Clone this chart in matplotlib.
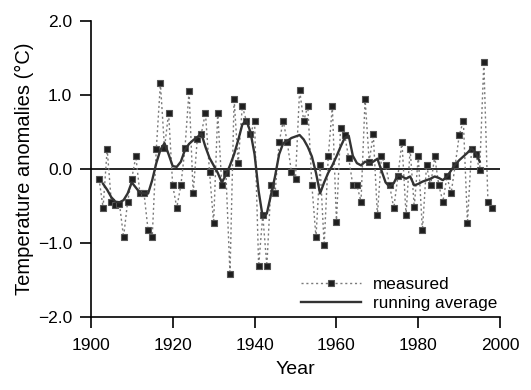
import matplotlib.pyplot as plt

plt.rcParams['font.family'] = ['Liberation Sans', 'DejaVu Sans']

# measured anomalies, 1902-1998
years = list(range(1902, 1999))
measured = [-0.13, -0.52, 0.27, -0.44, -0.49, -0.47, -0.92, -0.44, -0.13, 0.17,
            -0.33, -0.33, -0.83, -0.92, 0.27, 1.16, 0.28, 0.76, -0.22, -0.52,
            -0.22, 0.28, 1.06, -0.33, 0.40, 0.48, 0.76, -0.04, -0.73, 0.76,
            -0.22, -0.05, -1.42, 0.95, 0.08, 0.85, 0.65, 0.47, 0.65, -1.31,
            -0.62, -1.31, -0.22, -0.33, 0.36, 0.65, 0.36, -0.04, -0.13, 1.07,
            0.65, 0.85, -0.22, -0.92, 0.05, -1.03, 0.17, 0.85, -0.72, 0.55,
            0.46, 0.15, -0.22, -0.22, -0.44, 0.95, 0.10, 0.47, -0.62, 0.17,
            0.05, -0.22, -0.53, -0.10, 0.37, -0.62, 0.27, -0.51, 0.17, -0.83,
            0.05, -0.22, 0.17, -0.22, -0.44, -0.10, -0.33, 0.05, 0.46, 0.65,
            -0.73, 0.27, 0.20, -0.01, 1.45, -0.44, -0.53]

# running average, 1903-1995
avg_years = list(range(1903, 1996))
running = [-0.20, -0.28, -0.38, -0.44, -0.45, -0.42, -0.33, -0.18, -0.25, -0.32,
           -0.33, -0.33, -0.15, 0.08, 0.26, 0.35, 0.20, 0.04, 0.03, 0.10,
           0.26, 0.34, 0.39, 0.43, 0.48, 0.30, 0.15, 0.05, -0.05, -0.18,
           -0.08, 0.05, 0.20, 0.39, 0.60, 0.66, 0.50, 0.20, -0.30, -0.65,
           -0.60, -0.35, -0.10, 0.20, 0.35, 0.38, 0.42, 0.44, 0.46, 0.40,
           0.30, 0.17, -0.05, -0.33, -0.18, -0.05, 0.05, 0.17, 0.30, 0.42,
           0.45, 0.18, 0.08, 0.05, 0.10, 0.08, 0.10, 0.14, -0.02, -0.18,
           -0.24, -0.19, -0.08, -0.10, -0.13, -0.10, -0.22, -0.20, -0.17, -0.15,
           -0.13, -0.10, -0.12, -0.15, -0.10, -0.02, 0.06, 0.12, 0.17, 0.22,
           0.28, 0.22, 0.10]

fig, ax = plt.subplots(figsize=(5.31, 3.9), dpi=100)
fig.subplots_adjust(left=0.171, right=0.942, bottom=0.187, top=0.946)

ax.axhline(0, color='black', lw=1.2, zorder=1)
ax.plot(years, measured, ls=(0, (1.5, 2)), color='#7a7a7a', lw=1.0,
        marker='s', ms=5, mfc='#1e1e1e', mec='#555555', mew=0.8,
        label='measured', zorder=2)
ax.plot(avg_years, running, color='#333333', lw=1.7, label='running average', zorder=3)

ax.set_xlim(1900, 2000)
ax.set_ylim(-2.0, 2.0)
ax.set_xticks(range(1900, 2001, 20))
ax.set_yticks([-2, -1, 0, 1, 2])
ax.set_yticklabels(['\u22122.0', '\u22121.0', '0.0', '1.0', '2.0'])
ax.tick_params(labelsize=12.5, length=8, width=1.2, direction='out')
ax.tick_params(axis='x', pad=7)
ax.tick_params(axis='y', pad=5.5)
ax.spines['top'].set_visible(False)
ax.spines['right'].set_visible(False)
ax.spines['left'].set_linewidth(1.2)
ax.spines['bottom'].set_linewidth(1.2)

ax.set_xlabel('Year', fontsize=14, labelpad=6)
ax.set_ylabel('Temperature anomalies (\u00b0C)', fontsize=14.5, labelpad=3)

leg = ax.legend(loc='lower right', bbox_to_anchor=(0.993, 0.02), frameon=False,
                fontsize=12.3, handlelength=3.5, labelspacing=0.25, handletextpad=0.7,
                borderpad=0, borderaxespad=0)

fig.savefig('out.png', dpi=100)
